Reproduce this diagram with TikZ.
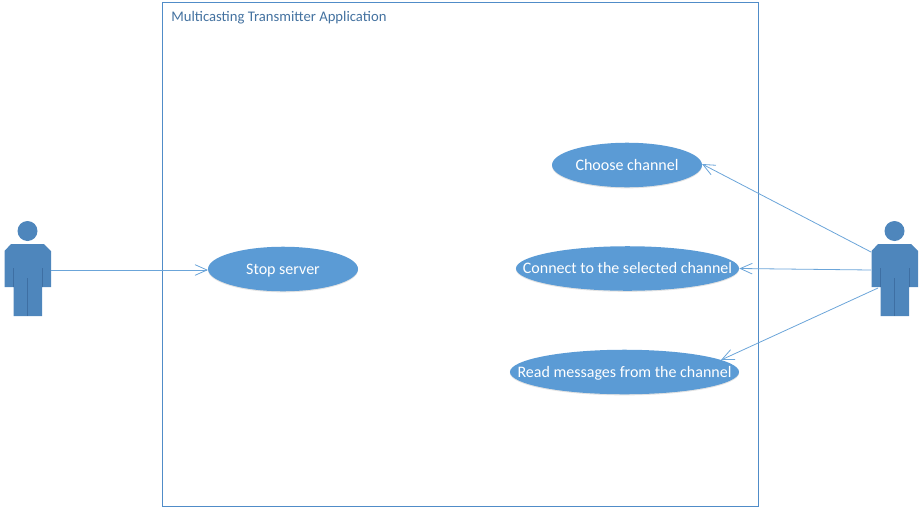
\documentclass[tikz,border=0pt]{standalone}
\usepackage{fontspec}
\setmainfont{Carlito}
\usetikzlibrary{arrows.meta,shapes.geometric,shadows}
\definecolor{usecase}{RGB}{91,155,213}
\definecolor{figure}{RGB}{78,134,188}
\definecolor{figureline}{RGB}{62,111,163}
\definecolor{frameline}{RGB}{80,140,200}
\definecolor{titletext}{RGB}{68,114,160}
\tikzset{
	usecase/.style={ellipse,fill=usecase,inner sep=0pt,minimum height=33.4pt,text=white,text height=10pt,text depth=2.2pt,font=\fontsize{12}{14}\selectfont,drop shadow={opacity=0.22,shadow xshift=0pt,shadow yshift=-0.8pt}},
	assoc/.style={usecase!90!white,line width=0.6pt,-{Straight Barb[length=9pt,width=8pt,line width=0.6pt]}},
}
% stick figure, origin at the top of its head
\newcommand{\actorfigure}[1]{
	\begin{scope}[shift={(#1,0)}]
	\fill [figure] (0,231) circle (10);
	\fill [figure] (-23,251) -- (-16.5,244) -- (16.5,244) -- (23.5,251) -- (23.5,287) -- (14.5,287) -- (14.5,316) -- (-14,316) -- (-14,287) -- (-23,287) -- cycle;
	\draw [figureline, very thin] (-14,268) -- (-14,287);
	\draw [figureline, very thin] (14.5,268) -- (14.5,287);
	\draw [figureline, very thin] (0,278) -- (0,316);
	\end{scope}
}

\begin{document}
\begin{tikzpicture}[x=0.75pt,y=0.75pt,yscale=-1,xscale=1]
	\useasboundingbox (0,0) rectangle (923,514);

	\draw [frameline, line width=0.65pt] (162.5,2) rectangle (758,506);
	\node [anchor=west, text=titletext, font=\fontsize{11}{13}\selectfont, inner sep=0pt] (title) at (171,18) {Multicasting Transmitter Application};

	\actorfigure{27.5}
	\actorfigure{894.5}

	\node [usecase, minimum width=112.5pt] (stop) at (283,269) {\makebox[0pt]{Stop server}};
	\node [usecase, minimum width=112.5pt] (choose) at (627,165) {\makebox[0pt]{Choose channel}};
	\node [usecase, minimum width=167.3pt] (connect) at (627.5,268.5) {\makebox[0pt]{Connect to the selected channel}};
	\node [usecase, minimum width=171.8pt] (read) at (624.5,372) {\makebox[0pt]{Read messages from the channel}};

	\coordinate (leftarm) at (51,270);
	\coordinate (stopend) at (208,270);
	\coordinate (rightshoulder) at (871,252);
	\coordinate (rightarm) at (871,270);
	\coordinate (righthip) at (878,288);
	\coordinate (chooseend) at (702,164);
	\coordinate (readend) at (721,360);

	\draw [assoc] (leftarm) -- (stopend);
	\draw [assoc] (rightshoulder) -- (chooseend);
	\draw [assoc] (rightarm) -- (connect.east);
	\draw [assoc] (righthip) -- (readend);
\end{tikzpicture}
\end{document}
